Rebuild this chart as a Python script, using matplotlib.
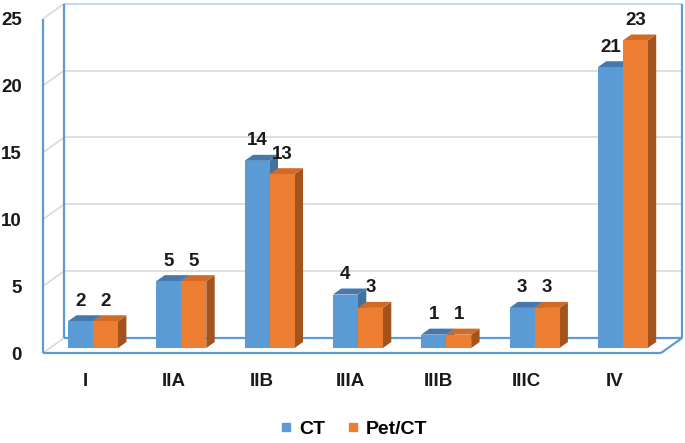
import matplotlib
matplotlib.use('Agg')
import matplotlib.pyplot as plt
from matplotlib.patches import Polygon, Rectangle
from matplotlib.lines import Line2D

categories = ['I', 'IIA', 'IIB', 'IIIA', 'IIIB', 'IIIC', 'IV']
ct_values = [2, 5, 14, 4, 1, 3, 21]
petct_values = [2, 5, 13, 3, 1, 3, 23]
y_ticks = [0, 5, 10, 15, 20, 25]

plt.rcParams['font.family'] = ['Liberation Sans', 'DejaVu Sans']

W, H = 685, 443
PX_X = 88.3     # pixels per category
PX_Y = 13.37    # pixels per unit value
X0, Y0 = 93, 348  # pixel position of category 0 / value 0 (bar plane)
SLANT = 1.4     # horizontal shift per vertical pixel of depth

FRONT, BACK, BAR_DEPTH = -5, 10, 6
BAR_W = 25 / PX_X
LEFT, RIGHT = -0.487, 6.512
TOP = 25
FS = 13.5

series = [
    (ct_values, '#5B9BD5', '#4678AE', '#41719C', 'CT'),
    (petct_values, '#ED7D31', '#D06A25', '#A3531E', 'Pet/CT'),
]


def pt(x, v, t):
    # project (category, value, depth in px) onto the flat axes
    return (x + t * SLANT / PX_X, v + t / PX_Y)


def seg(ax, p, q, color, lw=1.3, z=1):
    ax.plot([p[0], q[0]], [p[1], q[1]], color=color, lw=lw, zorder=z,
            solid_capstyle='butt')


fig = plt.figure(figsize=(W / 100, H / 100), dpi=100)
ax = fig.add_axes([0, 0, 1, 1])
ax.set_xlim(-X0 / PX_X, (W - X0) / PX_X)
ax.set_ylim((Y0 - H) / PX_Y, Y0 / PX_Y)
ax.axis('off')

grid = '#D9D9D9'
edge = '#5B9BD5'

# back wall and side wall gridlines
for v in y_ticks[1:]:
    seg(ax, pt(LEFT, v, BACK), pt(RIGHT, v, BACK), grid, 1.2)
    seg(ax, pt(LEFT, v, FRONT), pt(LEFT, v, BACK), grid, 1.2)
seg(ax, pt(LEFT, 0, FRONT), pt(LEFT, 0, BACK), grid, 1.2)
seg(ax, pt(LEFT, TOP, BACK), pt(RIGHT, TOP, BACK), '#BDD7EE', 1.2)

# walls / floor outline
seg(ax, pt(LEFT, 0, FRONT), pt(LEFT, TOP, FRONT), edge, 1.6)
seg(ax, pt(LEFT, 0, BACK), pt(LEFT, TOP, BACK), edge, 1.6)
seg(ax, pt(RIGHT, 0, BACK), pt(RIGHT, TOP, BACK), edge, 1.6)
seg(ax, pt(LEFT, 0, FRONT), pt(RIGHT, 0, FRONT), edge, 1.6)
seg(ax, pt(LEFT, 0, BACK), pt(RIGHT, 0, BACK), edge, 1.6)
seg(ax, pt(RIGHT, 0, FRONT), pt(RIGHT, 0, BACK), edge, 1.6)

# 3d bars
for i in range(len(categories)):
    for s, (vals, front_c, top_c, side_c, _) in enumerate(series):
        v = vals[i]
        x0 = i - BAR_W + s * BAR_W
        x1 = x0 + BAR_W
        side = [pt(x1, 0, 0), pt(x1, v, 0), pt(x1, v, BAR_DEPTH), pt(x1, 0, BAR_DEPTH)]
        top = [pt(x0, v, 0), pt(x1, v, 0), pt(x1, v, BAR_DEPTH), pt(x0, v, BAR_DEPTH)]
        ax.add_patch(Polygon(side, closed=True, fc=side_c, ec='none', zorder=3))
        ax.add_patch(Polygon(top, closed=True, fc=top_c, ec='none', zorder=3))
        ax.add_patch(Rectangle((x0, 0), BAR_W, v, fc=front_c, ec='none', zorder=3))
        ax.text(x0 + BAR_W / 2, v + 20 / PX_Y, str(v), ha='center', va='center',
                fontsize=FS, fontweight='bold', color='#1a1a1a', zorder=5)

# axis labels
for v in y_ticks:
    x, y = pt(LEFT, v, FRONT)
    ax.text((22 - X0) / PX_X, y - 2 / PX_Y, str(v), ha='right', va='center',
            fontsize=FS, fontweight='bold', color='#1a1a1a')

for i, c in enumerate(categories):
    x, _ = pt(i, 0, FRONT)
    ax.text(x - 1 / PX_X, (Y0 - 382) / PX_Y, c, ha='center', va='center',
            fontsize=FS, fontweight='bold', color='#1a1a1a')

handles = [Line2D([], [], marker='s', ls='', markersize=6, color=s[1]) for s in series]
fig.legend(handles, [s[4] for s in series], loc='center', ncol=2,
           bbox_to_anchor=(0.515, 14 / H), frameon=False, handletextpad=0.3,
           columnspacing=1.0, handlelength=0.8,
           prop={'size': 14, 'weight': 'bold'})

fig.savefig('out.png', dpi=100)
